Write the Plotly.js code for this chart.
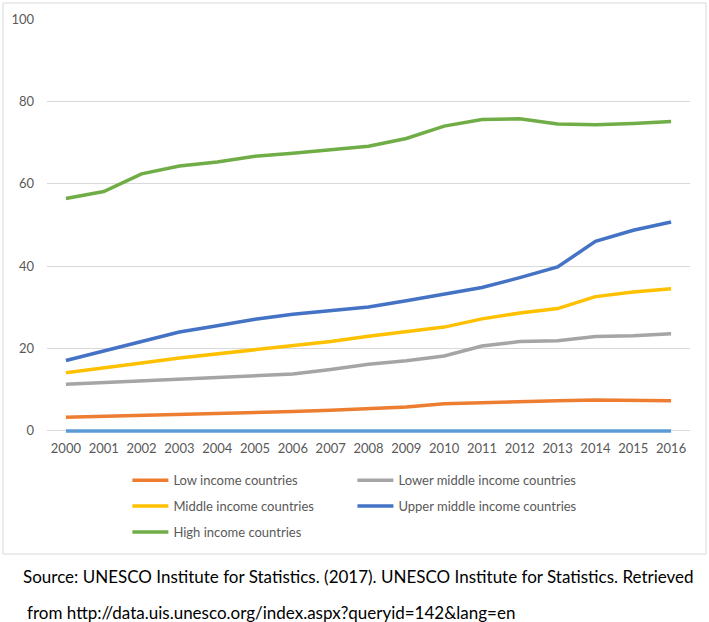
<!DOCTYPE html>
<html>
<head>
<meta charset="utf-8">
<script src="https://cdn.plot.ly/plotly-3.0.1.min.js"></script>
<style>
  body { margin: 0; background: #ffffff; }
  #chart { width: 709px; height: 622px; }
</style>
</head>
<body>
<div id="chart"></div>
<script>
var years = [2000, 2001, 2002, 2003, 2004, 2005, 2006, 2007, 2008,
	2009, 2010, 2011, 2012, 2013, 2014, 2015, 2016];

var low_income = [3.3, 3.5, 3.7, 4.0, 4.2, 4.5, 4.7, 5.0, 5.3, 5.8, 6.6, 6.9, 7.2, 7.3, 7.5, 7.5, 7.3];
var lower_middle = [11.3, 11.7, 12.1, 12.5, 12.9, 13.2, 13.8, 14.9, 16.2, 17.0, 18.2, 20.6, 21.7, 21.9, 22.9, 23.1, 23.6];
var middle_income = [14.1, 15.2, 16.5, 17.7, 18.7, 19.7, 20.7, 21.7, 23.0, 24.0, 25.2, 27.2, 28.6, 29.7, 32.6, 33.7, 34.5];
var upper_middle = [17.1, 19.4, 21.9, 24.0, 25.5, 27.1, 28.3, 29.1, 30.1, 31.6, 33.2, 34.8, 37.2, 39.8, 46.0, 48.7, 50.7];
var high_income = [56.4, 58.1, 62.4, 64.3, 65.3, 66.7, 67.4, 68.2, 69.1, 71.0, 74.0, 75.6, 75.8, 74.5, 74.3, 74.6, 75.1];
var zero_series = [0, 0, 0, 0, 0, 0, 0, 0, 0, 0, 0, 0, 0, 0, 0, 0, 0];

var source_line1 = "Source: UNESCO Institute for Statistics. (2017). UNESCO Institute for Statistics. Retrieved";
var source_line2 = "from http://data.uis.unesco.org/index.aspx?queryid=142&lang=en";

var lw = 3.5;
var font = "Lato, 'Open Sans', sans-serif";
var grey_text = "#595959";

function line_trace(name, y, color, legend, group) {
	return {
		type: "scatter",
		mode: "lines",
		x: years,
		y: y,
		name: name,
		legend: legend,
		legendgroup: group,
		line: { color: color, width: lw },
		hoverinfo: "x+y+name"
	};
}

var data = [
	line_trace("Low income countries", low_income, "#ED7D31", "legend", "a"),
	line_trace("Lower middle income countries", lower_middle, "#A5A5A5", "legend2", "b"),
	line_trace("Middle income countries", middle_income, "#FFC000", "legend", "c"),
	line_trace("Upper middle income countries", upper_middle, "#4472C4", "legend2", "d"),
	line_trace("High income countries", high_income, "#70AD47", "legend", "e")
];
// flat series at zero, drawn but not listed in the legend
var zero_trace = line_trace("", zero_series, "#5B9BD5", "legend", "z");
zero_trace.showlegend = false;
data.push(zero_trace);

var legend_common = {
	orientation: "v",
	xanchor: "left",
	yanchor: "top",
	y: -0.0726,
	bgcolor: "rgba(0,0,0,0)",
	font: { family: font, size: 13, color: grey_text },
	tracegroupgap: 6,
	itemwidth: 36
};

var layout = {
	width: 709,
	height: 622,
	// y range starts a little below 0 so the zero line is not cut in half
	margin: { l: 47, r: 19, t: 19, b: 187, pad: 0 },
	paper_bgcolor: "#ffffff",
	plot_bgcolor: "#ffffff",
	font: { family: font, size: 12, color: grey_text },
	showlegend: true,
	legend: Object.assign({ x: 0.125 }, legend_common),
	legend2: Object.assign({ x: 0.475 }, legend_common),
	xaxis: {
		range: [1999.5, 2016.5],
		tickvals: years,
		ticktext: years.map(String),
		showgrid: false,
		zeroline: false,
		showline: false,
		ticks: "",
		ticklabelstandoff: 4,
		tickfont: { family: font, size: 13, color: grey_text },
		fixedrange: true
	},
	yaxis: {
		range: [-1, 100],
		tickvals: [0, 20, 40, 60, 80, 100],
		showgrid: true,
		gridcolor: "#D9D9D9",
		gridwidth: 1,
		zeroline: false,
		showline: false,
		ticks: "",
		ticklabelstandoff: 12,
		tickfont: { family: font, size: 13, color: grey_text },
		fixedrange: true
	},
	shapes: [{
		type: "rect",
		xref: "paper",
		yref: "paper",
		x0: -0.0684,
		x1: 1.0249,
		y0: -0.2861,
		y1: 1.0385,
		line: { color: "#D9D9D9", width: 1 },
		fillcolor: "rgba(0,0,0,0)",
		layer: "below"
	}],
	annotations: [{
		xref: "paper",
		yref: "paper",
		x: -0.041,
		y: -0.3413,
		xanchor: "left",
		yanchor: "middle",
		showarrow: false,
		text: source_line1,
		font: { family: font, size: 17, color: "#000000" }
	}, {
		xref: "paper",
		yref: "paper",
		x: -0.034,
		y: -0.4255,
		xanchor: "left",
		yanchor: "middle",
		showarrow: false,
		text: source_line2,
		font: { family: font, size: 17, color: "#000000" }
	}]
};

Plotly.newPlot("chart", data, layout, {
	displayModeBar: false,
	staticPlot: true
});
</script>
</body>
</html>
